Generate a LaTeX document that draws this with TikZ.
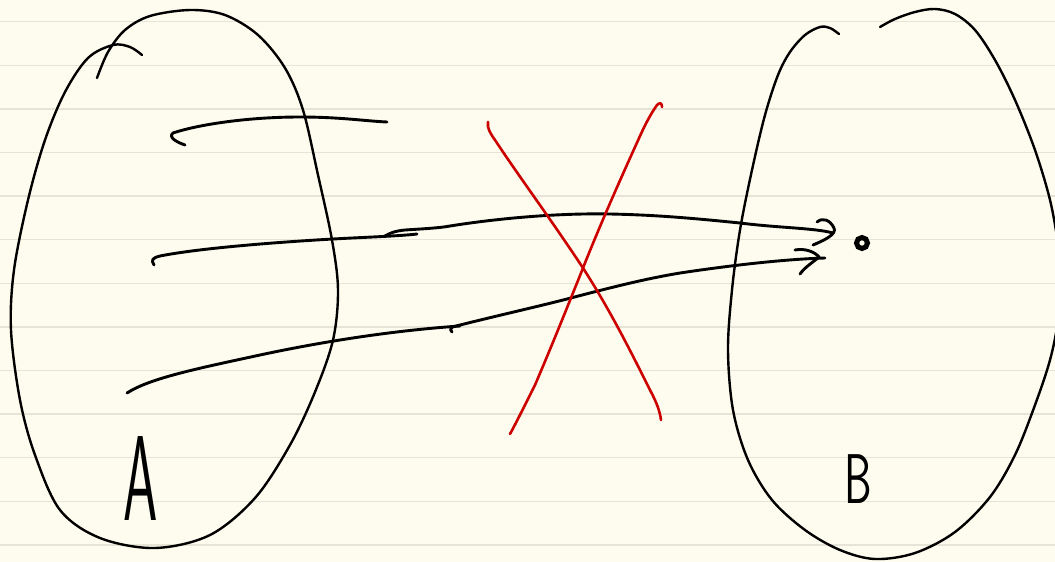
\documentclass[tikz,border=0pt]{standalone}
\usepackage{graphicx}
\definecolor{paper}{RGB}{254,252,238}
\definecolor{rule}{RGB}{230,228,214}
\definecolor{penred}{RGB}{204,0,0}
\tikzset{
  outline/.style={line width=2.4pt, line cap=round, line join=round, black},
  pen/.style={line width=2.9pt, line cap=round, line join=round, black},
  redpen/.style={line width=2.6pt, line cap=round, line join=round, penred},
  ruled/.style={line width=1.5pt, rule},
  label/.style={anchor=base, inner sep=0pt, text=black}
}
\begin{document}
\begin{tikzpicture}[x=1pt,y=-1pt]
\useasboundingbox (0,0) rectangle (1055,562);
\clip (0,0) rectangle (1055,562);
\fill[paper] (0,0) rectangle (1055,562);
\foreach \k in {0,...,12} {
  \draw[ruled] (0,{21.7+43.6*\k}) -- (1055,{21.7+43.6*\k});
}
% set A
\draw[outline] plot[smooth, tension=0.55] coordinates {
 (97,78) (108,52) (125,30) (150,16) (190,10) (225,15) (258,35) (285,68)
 (303,110) (318,175) (332,240) (338,290) (333,340) (315,392) (290,445)
 (255,498) (210,535) (155,548) (100,538) (60,510) (35,455) (20,400)
 (11,330) (14,270) (28,200) (45,140) (65,92) (88,58)
 (113,45) (130,47) (142,55)};
% set B
\draw[outline] plot[smooth, tension=0.55] coordinates {
 (839,34) (830,28) (820,27) (805,35) (790,52) (778,75) (765,115) (752,170)
 (740,230) (732,290) (728,350) (733,410) (748,460) (772,500) (805,530)
 (840,550) (875,559) (915,553) (955,532) (990,497) (1015,455) (1035,405)
 (1050,360) (1058,320) (1060,280) (1058,245) (1050,200) (1035,150) (1015,100)
 (995,60) (975,30) (955,14) (935,9) (915,12) (895,19) (880,27)};
% labels
\node[label] (labA) at (141,520) {\scalebox{1}[2.2]{\fontsize{55}{55}\selectfont\sffamily A}};
\node[label] (labB) at (858,503) {\scalebox{1}[1.6]{\fontsize{44}{44}\selectfont\sffamily B}};
% target point
\node[circle, draw=black, line width=5pt, minimum size=11pt, inner sep=0pt] (pt) at (862,243) {};
% arrows (hand strokes)
\coordinate (tip1) at (833,233);
\coordinate (tip2) at (825,258);
\draw[pen] (185,145) .. controls (176,142) and (168,137) .. (173,133)
  .. controls (200,124) and (250,117) .. (300,117)
  .. controls (340,117) and (365,121) .. (387,122);
\draw[pen] (154,265) .. controls (151,260) and (152,258) .. (160,256)
  .. controls (200,248) and (280,242) .. (333,239)
  .. controls (370,237) and (400,236) .. (417,234);
\draw[pen] (385,236) .. controls (390,233) and (395,231) .. (405,230)
  .. controls (420,229) and (440,228) .. (450,226)
  .. controls (500,218) and (560,213) .. (610,214)
  .. controls (660,215) and (700,219) .. (740,223)
  .. controls (780,228) and (815,228) .. (tip1);
\draw[pen] (817,222) .. controls (823,217) and (830,220) .. (834,228)
  .. controls (837,234) and (825,240) .. (813,245);
\draw[pen] (127,393) .. controls (150,378) and (200,368) .. (260,355)
  .. controls (330,340) and (400,330) .. (460,326);
\draw[pen] (452,332) .. controls (449,329) and (451,327) .. (456,326)
  .. controls (500,315) and (540,306) .. (567,299)
  .. controls (620,285) and (650,278) .. (680,273)
  .. controls (740,264) and (790,259) .. (tip2);
\draw[pen] (795,250) .. controls (805,248) and (815,252) .. (819,257)
  .. controls (812,263) and (805,267) .. (800,274);
% red cross
\draw[redpen] (488,122) .. controls (487,128) and (490,133) .. (495,140)
  .. controls (520,178) and (550,218) .. (583,268)
  .. controls (610,310) and (630,350) .. (650,390)
  .. controls (657,403) and (660,412) .. (661,420);
\draw[redpen] (662,107) .. controls (662,103) and (660,102) .. (657,105)
  .. controls (650,115) and (645,125) .. (640,136)
  .. controls (620,180) and (600,225) .. (583,268)
  .. controls (565,313) and (550,350) .. (535,385)
  .. controls (525,405) and (515,425) .. (510,434);
\end{tikzpicture}
\end{document}
